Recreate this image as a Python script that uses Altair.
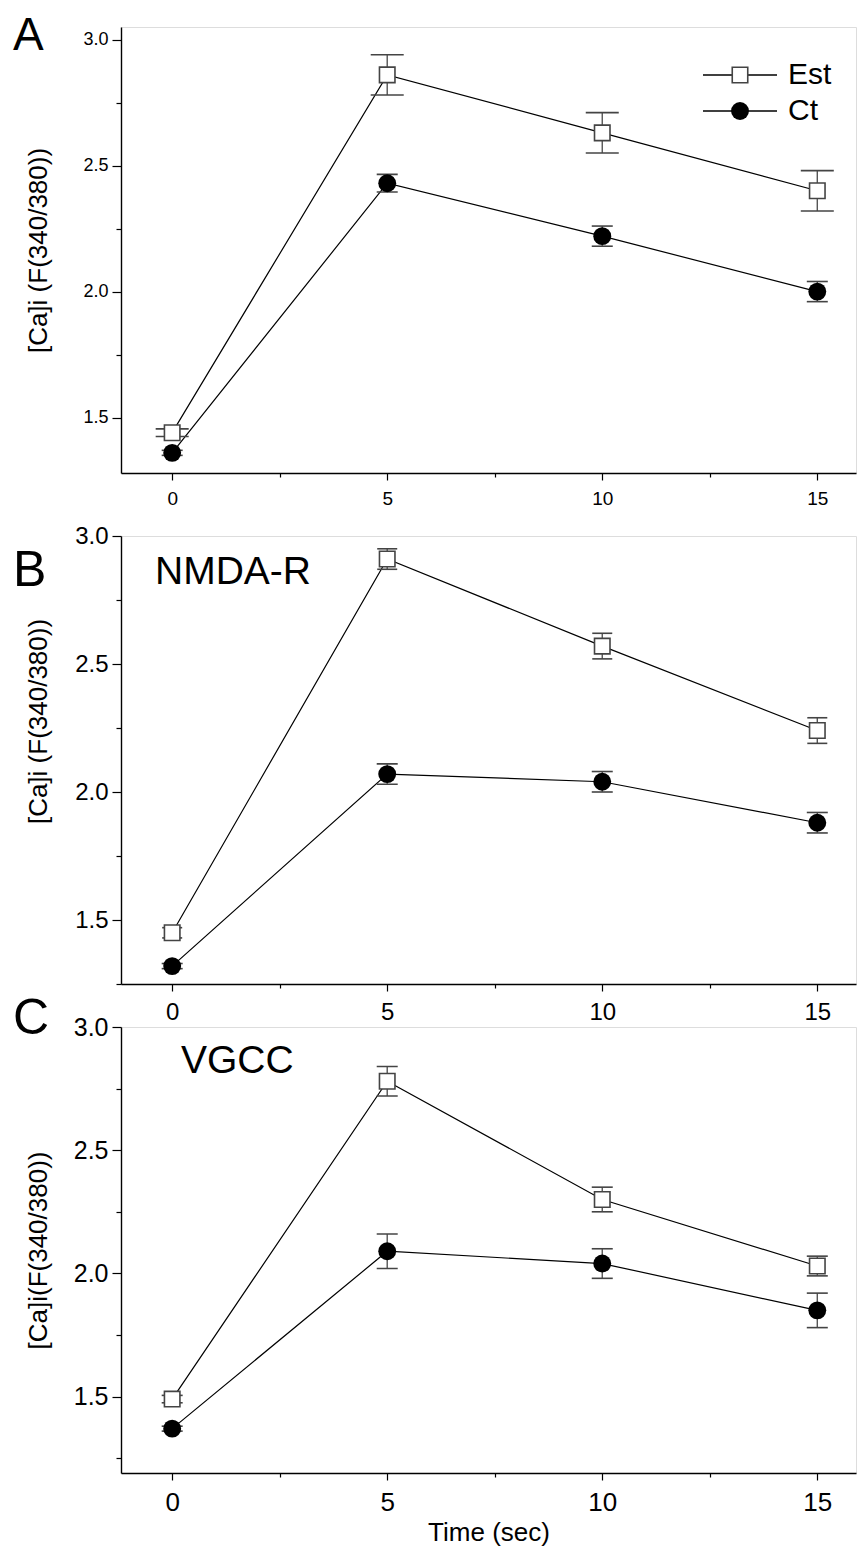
import altair as alt
import pandas as pd

# ---------------- data ----------------
T = [0, 5, 10, 15]

A_est = [1.44, 2.86, 2.63, 2.40]
A_est_err = [0.015, 0.08, 0.08, 0.08]
A_ct = [1.36, 2.43, 2.22, 2.00]
A_ct_err = [0.01, 0.035, 0.04, 0.04]

B_est = [1.45, 2.91, 2.57, 2.24]
B_est_err = [0.02, 0.04, 0.05, 0.05]
B_ct = [1.32, 2.07, 2.04, 1.88]
B_ct_err = [0.01, 0.04, 0.04, 0.04]

C_est = [1.49, 2.78, 2.30, 2.03]
C_est_err = [0.015, 0.06, 0.05, 0.04]
C_ct = [1.37, 2.09, 2.04, 1.85]
C_ct_err = [0.01, 0.07, 0.06, 0.07]

X_TICKS = [0, 2.5, 5, 7.5, 10, 12.5, 15]
FONT = "Liberation Sans"
W = 735


def panel(est, est_err, ct, ct_err, ydom, yticks, h, ytitle, letter, letter_y,
          xlab, ylab, est_cap, ct_cap, note=None, note_xy=None, xtitle=None,
          legend=False, title_y=None, letter_size=50):
    df = pd.DataFrame({
        "t": T * 2,
        "v": est + ct,
        "err": est_err + ct_err,
        "series": ["Est"] * 4 + ["Ct"] * 4,
    })
    df["lo"] = df["v"] - df["err"]
    df["hi"] = df["v"] + df["err"]

    xscale = alt.Scale(domain=[-1.19, 15.9], nice=False, zero=False)
    yscale = alt.Scale(domain=ydom, nice=False, zero=False)
    xaxis = alt.Axis(
        values=X_TICKS,
        labelExpr="datum.value % 5 === 0 ? format(datum.value, 'd') : ''",
        tickSize={"condition": {"test": "datum.value % 5 === 0", "value": 7}, "value": 4},
        grid=False, domainColor="black", domainWidth=1.6, tickColor="black",
        tickWidth=1.2, labelFontSize=xlab, labelFont=FONT, labelColor="black",
        labelPadding=9, title=xtitle if xtitle else None,
        titleFontSize=26, titleFont=FONT, titleFontWeight="normal",
        titleColor="black", titlePadding=4,
    )
    yaxis = alt.Axis(
        values=yticks,
        labelExpr="datum.value % 0.5 === 0 ? format(datum.value, '.1f') : ''",
        tickSize={"condition": {"test": "datum.value % 0.5 === 0", "value": 9}, "value": 5},
        grid=False, domainColor="black", domainWidth=1.4, tickColor="black",
        tickWidth=1.2, labelFontSize=ylab, labelFont=FONT, labelColor="black",
        labelPadding=4, title=ytitle, titleFontSize=26, titleFont=FONT,
        titleFontWeight="normal", titleColor="black", titleX=-70,
        titleY=title_y if title_y is not None else h / 2,
    )

    def X():
        return alt.X("t:Q", scale=xscale, axis=xaxis)

    def Y(f):
        return alt.Y(f + ":Q", scale=yscale, axis=yaxis)

    base = alt.Chart(df)
    lines = base.mark_line(color="black", strokeWidth=1.2).encode(
        x=X(), y=Y("v"), detail="series:N")
    bars = base.mark_rule(color="#555", strokeWidth=1.4).encode(
        x=X(), y=Y("lo"), y2="hi:Q")
    layers = [lines, bars]
    for s, cap in (("Est", est_cap), ("Ct", ct_cap)):
        sub = base.transform_filter(alt.datum.series == s)
        for f in ("lo", "hi"):
            layers.append(sub.mark_tick(orient="horizontal", size=cap, thickness=1.6,
                                        color="#444", opacity=1).encode(x=X(), y=Y(f)))
    sq = base.transform_filter(alt.datum.series == "Est").mark_point(
        shape="square", filled=True, fill="white", stroke="#444", strokeWidth=1.6,
        size=240, opacity=1).encode(x=X(), y=Y("v"))
    ci = base.transform_filter(alt.datum.series == "Ct").mark_circle(
        color="black", size=320, opacity=1).encode(x=X(), y=Y("v"))
    layers += [sq, ci]

    one = alt.Chart(pd.DataFrame({"k": [0]}))
    layers.append(one.mark_text(text=letter, fontSize=letter_size, font=FONT, align="left",
                                baseline="middle", color="black").encode(
        x=alt.value(-108), y=alt.value(letter_y)))
    if note:
        layers.append(one.mark_text(text=note, fontSize=39, font=FONT, align="left",
                                    baseline="middle", color="black").encode(
            x=alt.value(note_xy[0]), y=alt.value(note_xy[1])))
    if legend:
        for lbl, yy, kind in (("Est", 48, "sq"), ("Ct", 84, "ci")):
            layers.append(one.mark_rule(color="black", strokeWidth=1.5).encode(
                x=alt.value(582), x2=alt.value(656), y=alt.value(yy)))
            if kind == "sq":
                layers.append(one.mark_point(shape="square", filled=True, fill="white",
                                             stroke="#444", strokeWidth=1.6, size=240,
                                             opacity=1).encode(
                    x=alt.value(619), y=alt.value(yy)))
            else:
                layers.append(one.mark_circle(color="black", size=320, opacity=1).encode(
                    x=alt.value(619), y=alt.value(yy)))
            layers.append(one.mark_text(text=lbl, fontSize=30, font=FONT, align="left",
                                        baseline="middle", color="black").encode(
                x=alt.value(667), y=alt.value(yy)))
    return alt.layer(*layers).properties(width=W, height=h)


pA = panel(A_est, A_est_err, A_ct, A_ct_err, [1.28, 3.05],
           [1.5, 1.75, 2.0, 2.25, 2.5, 2.75, 3.0], 446, "[Ca]i (F(340/380))",
           "A", 9, 19, 18, 33, 21, legend=True, letter_size=46)
pB = panel(B_est, B_est_err, B_ct, B_ct_err, [1.25, 3.0],
           [1.25, 1.5, 1.75, 2.0, 2.25, 2.5, 2.75, 3.0], 448, "[Ca]i  (F(340/380))",
           "B", 35, 24, 24, 20, 21, note="NMDA-R", note_xy=(34, 36), title_y=185)
pC = panel(C_est, C_est_err, C_ct, C_ct_err, [1.19, 3.0],
           [1.25, 1.5, 1.75, 2.0, 2.25, 2.5, 2.75, 3.0], 446, "[Ca]i(F(340/380))",
           "C", -8, 26, 25, 21, 21, note="VGCC", note_xy=(60, 34), xtitle="Time (sec)")

inner = alt.vconcat(pB, pC, spacing=43, bounds="flush")
chart = alt.vconcat(pA, inner, spacing=63, bounds="flush").properties(
    padding={"left": 4, "top": 4, "right": 0, "bottom": 0}
).configure_view(stroke=None).configure(font=FONT)

chart.save("out.html", embed_options={"renderer": "svg", "actions": False})
